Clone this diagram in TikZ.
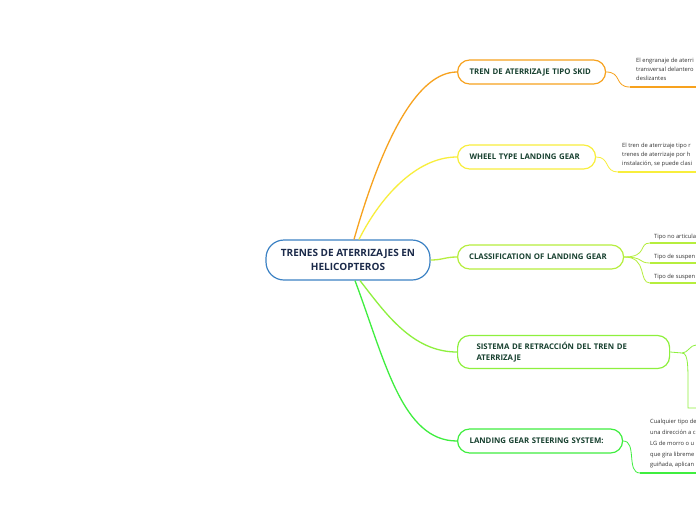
\documentclass[tikz,border=0pt]{standalone}
\usepackage{fontspec}
\setmainfont{Open Sans}

\definecolor{rootblue}{HTML}{3C82C4}
\definecolor{rootink}{HTML}{1B2A4A}
\definecolor{topicink}{HTML}{17402F}
\definecolor{leafink}{HTML}{333333}
\definecolor{cskid}{HTML}{F7A21E}
\definecolor{cwheel}{HTML}{F8EE3C}
\definecolor{cclass}{HTML}{B6EE3E}
\definecolor{cretract}{HTML}{8EF03E}
\definecolor{csteer}{HTML}{3FEE3F}

\begin{document}
\begin{tikzpicture}[x=1pt, y=-1pt,
  root/.style = {draw=rootblue, line width=1.2pt, rounded corners=18pt, fill=white, minimum width=164pt, minimum height=40pt, align=center, text=rootink, font=\fontsize{10}{14}\selectfont\bfseries},
  topic/.style = {draw=#1, line width=1.2pt, rounded corners=12pt, fill=white, anchor=west, minimum height=24pt, inner xsep=12pt, align=left, text=topicink, font=\fontsize{7.8}{11}\selectfont\bfseries},
  leaf/.style = {anchor=north west, inner sep=0pt, align=left, text=leafink, font=\fontsize{5.8}{9}\selectfont},
  link/.style = {draw=#1, line width=0.8pt},
  trunk/.style = {draw=#1, line width=1.3pt},
  uline/.style = {draw=#1, line width=1.6pt}]

% Frame
\fill[white] (0,0) rectangle (696,520);
\useasboundingbox (0,0) rectangle (696,520);

% Main topics
\node[root] (root) at (348,260) {TRENES DE ATERRIZAJES EN\\HELICOPTEROS};
\node[topic=cskid, text width=124pt] (skid) at (457,72) {TREN DE ATERRIZAJE TIPO SKID};
\node[topic=cwheel, text width=114pt] (wheel) at (457,157) {WHEEL TYPE LANDING GEAR};
\node[topic=cclass, text width=143pt, inner xsep=11.5pt] (class) at (457,257) {CLASSIFICATION OF LANDING GEAR};
\node[topic=cretract, text width=174pt, inner xsep=19pt, minimum height=33pt] (retract) at (457,352) {SISTEMA DE RETRACCIÓN DEL TREN DE\\ATERRIZAJE};
\node[topic=csteer, text width=141pt] (steer) at (457,441) {LANDING GEAR STEERING SYSTEM:};

% Root links
\coordinate (rskid) at ([xshift=6pt]root.north);
\coordinate (rwheel) at ([xshift=11pt]root.north);
\coordinate (rretract) at ([xshift=12pt]root.south);
\coordinate (rsteer) at ([xshift=7pt]root.south);
\draw[trunk=cskid] (rskid) .. controls +(30,-105) and +(-38,0) .. (skid.west);
\draw[trunk=cwheel] (rwheel) .. controls +(20,-40) and +(-42,0) .. (wheel.west);
\draw[trunk=cclass] (root.east) .. controls +(12,0) and +(-12,0) .. (class.west);
\draw[trunk=cretract] (rretract) .. controls +(25,32) and +(-45,0) .. (retract.west);
\draw[trunk=csteer] (rsteer) .. controls +(30,80) and +(-55,0) .. (steer.west);

% Leaves
\node[leaf] (skidtext) at (636,58) {El engranaje de aterri\\transversal delantero\\deslizantes};
\node[leaf] (wheeltext) at (622,143) {El tren de aterrizaje tipo r\\trenes de aterrizaje por h\\instalación, se puede clasi};
\node[leaf, anchor=west] (classa) at (654,237) {Tipo no articula};
\node[leaf, anchor=west] (classb) at (654,257) {Tipo de suspen};
\node[leaf, anchor=west] (classc) at (654,277) {Tipo de suspen};
\node[leaf, font=\fontsize{5.8}{10.8}\selectfont] (steertext) at (650,419) {Cualquier tipo de\\una dirección a c\\LG de morro o u\\que gira libreme\\guiñada, aplican};

% Leaf ends
\coordinate (skidend) at (630,87);
\coordinate (wheelend) at (618,172);
\coordinate (classaend) at (650,243);
\coordinate (classbend) at (650,263);
\coordinate (classcend) at (650,283);
\coordinate (steerend) at (640,473);
\coordinate (rjoin) at (682,353);
\coordinate (retractup) at (696,345);
\coordinate (retractdown) at (696,408);

% Leaf links
\draw[link=cskid] (skid.east) .. controls +(16,0) and +(-16,0) .. (skidend);
\draw[uline=cskid] (skidend) -- (skidend -| 696,0);
\draw[link=cwheel] (wheel.east) .. controls +(14,0) and +(-14,0) .. (wheelend);
\draw[uline=cwheel] (wheelend) -- (wheelend -| 696,0);
\draw[link=cclass] (class.east) .. controls +(24,0) and +(-12,0) .. (classaend);
\draw[link=cclass] (class.east) .. controls +(20,0) and +(-12,0) .. (classbend);
\draw[link=cclass] (class.east) .. controls +(24,0) and +(-12,0) .. (classcend);
\draw[uline=cclass] (classaend) -- (classaend -| 696,0);
\draw[uline=cclass] (classbend) -- (classbend -| 696,0);
\draw[uline=cclass] (classcend) -- (classcend -| 696,0);
\draw[link=cretract] (retract.east) -- (rjoin);
\draw[link=cretract] (rjoin) .. controls +(6,0) and +(-6,0) .. (retractup);
\draw[link=cretract] (rjoin) .. controls +(7,0) and +(0,-40) .. ([xshift=-8pt]retractdown) .. controls +(0,0) and +(-2,0) .. (retractdown);
\draw[link=csteer] (steer.east) .. controls +(14,0) and +(-14,0) .. (steerend);
\draw[uline=csteer] (steerend) -- (steerend -| 696,0);

\end{tikzpicture}
\end{document}
